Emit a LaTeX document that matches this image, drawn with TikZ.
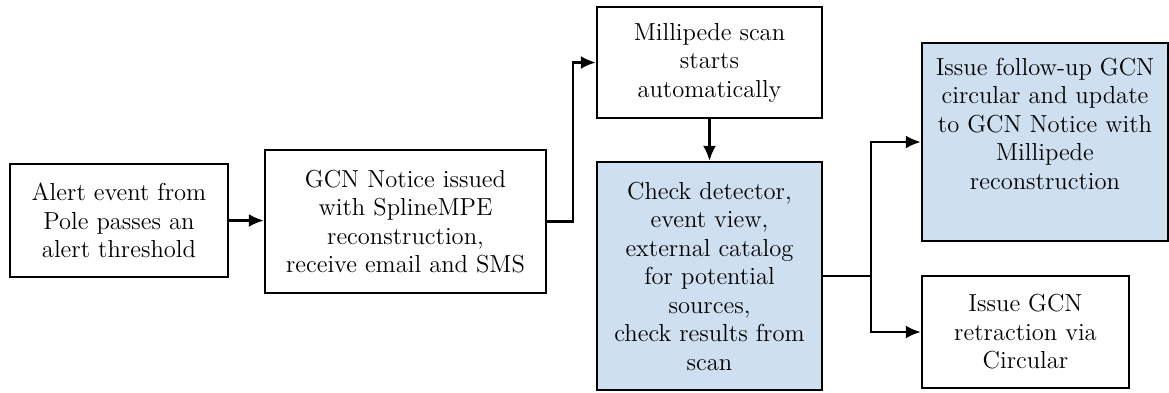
\documentclass[tikz,border=0pt]{standalone}
\usetikzlibrary{arrows.meta}
\definecolor{boxblue}{RGB}{206,223,240}
\begin{document}
\begin{tikzpicture}[x=0.5pt,y=-0.5pt,
		box/.style={draw, line width=1.2pt, align=center, inner sep=2pt, font=\fontsize{12.3}{14.25}\selectfont},
		bluebox/.style={box, fill=boxblue},
		arr/.style={line width=1.2pt, -{Latex[length=7.5pt,width=6.5pt]}}]
		\useasboundingbox (0,0) rectangle (1169,392);
		
		\node[box, minimum width=109pt, minimum height=56.5pt] (alert) at (119,220.5) {Alert event from\\ Pole passes an\\ alert threshold};
		\node[box, minimum width=140.5pt, minimum height=71.5pt] (notice) at (405.5,221.5) {GCN Notice issued\\ with SplineMPE\\ reconstruction,\\ receive email and SMS};
		\node[box, minimum width=112.5pt, minimum height=55.5pt] (scan) at (709.5,62.5) {Millipede scan\\ starts\\ automatically};
		\node[bluebox, minimum width=112.5pt, minimum height=114pt] (check) at (709.5,276) {Check detector,\\ event view,\\ external catalog\\ for potential\\ sources,\\ check results from\\ scan};
		\node[bluebox, minimum width=123pt, minimum height=99pt] (followup) at (1045,142) {Issue follow-up GCN\\ circular and update\\ to GCN Notice with\\ Millipede\\ reconstruction\\ \strut};
		\node[box, minimum width=103.5pt, minimum height=56pt] (retract) at (1025.5,332) {Issue GCN\\ retraction via\\ Circular};
		
		\coordinate (split) at (871,276);
		
		\draw[arr] (alert.east) -- (alert.east -| notice.west);
		\draw[arr] (notice.east) -- ++(26,0) |- (scan.west);
		\draw[arr] (scan.south) -- (check.north);
		\draw[line width=1.2pt] (check.east) -- (split);
		\draw[arr] (split) |- (followup.west);
		\draw[arr] (split) |- (retract.west);
\end{tikzpicture}
\end{document}
